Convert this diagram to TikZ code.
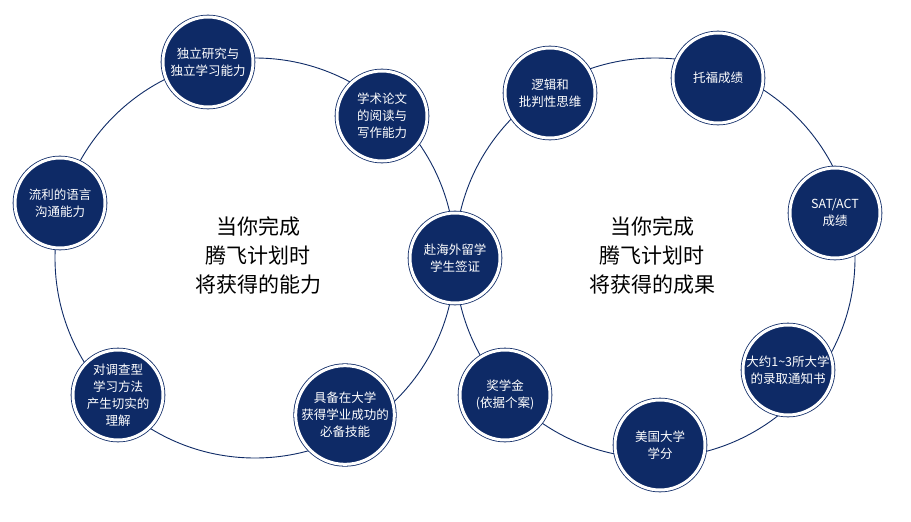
\documentclass[tikz,border=0pt]{standalone}
\usepackage{fontspec}
\setmainfont{Noto Sans CJK SC}
\begin{document}
\begin{tikzpicture}[x=1pt,y=-1pt,
  nd/.style={circle,minimum size=90pt,inner sep=0pt,fill=navy,draw=navy,line width=0.8pt,double=white,double distance=3pt,text=white,align=center,font=\fontsize{12.5}{17}\selectfont},
  big/.style={draw=navy,line width=0.9pt},
  ctr/.style={align=center,font=\fontsize{21}{29}\selectfont,text=black}]
\definecolor{navy}{HTML}{0E2A66}
\useasboundingbox (0,0) rectangle (911,522);
\draw[big] (255,258) circle (200);
\draw[big] (655,258) circle (200);
\node[nd] (a) at (208,62) {独立研究与\\独立学习能力};
\node[nd] (b) at (382,116) {学术论文\\的阅读与\\写作能力};
\node[nd] (c) at (60,203) {流利的语言\\沟通能力};
\node[nd] (d) at (118,395) {对调查型\\学习方法\\产生切实的\\理解};
\node[nd] (e) at (345,415) {具备在大学\\获得学业成功的\\必备技能};
\node[nd] (f) at (455,258) {赴海外留学\\学生签证};
\node[nd] (g) at (550,93) {逻辑和\\批判性思维};
\node[nd] (h) at (718,78) {托福成绩};
\node[nd] (i) at (835,213) {SAT/ACT\\成绩};
\node[nd] (j) at (788,370) {大约1\textasciitilde3所大学\\的录取通知书};
\node[nd] (k) at (660,445) {美国大学\\学分};
\node[nd] (l) at (505,395) {奖学金\\(依据个案)};
\node[ctr] (t1) at (258,255) {当你完成\\腾飞计划时\\将获得的能力};
\node[ctr] (t2) at (652,255) {当你完成\\腾飞计划时\\将获得的成果};
\end{tikzpicture}
\end{document}
